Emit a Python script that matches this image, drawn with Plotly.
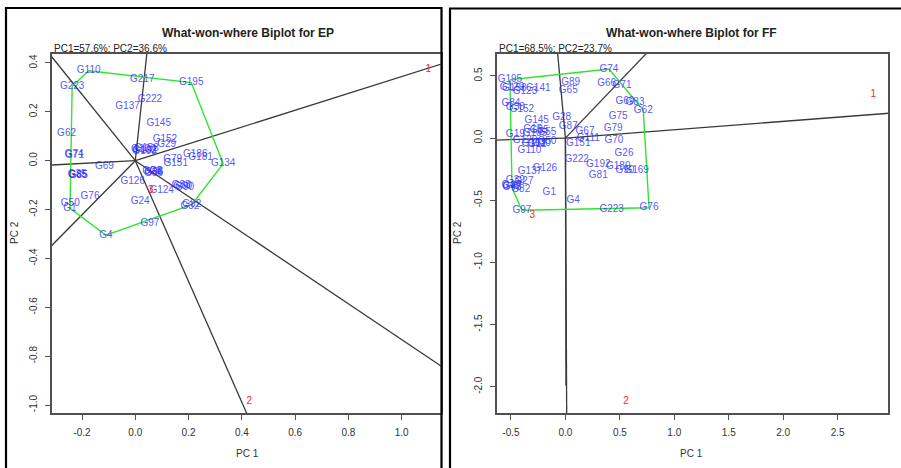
import math
import plotly.graph_objects as go

W, H = 901, 468
FONT = "Liberation Sans, Arial, Helvetica, sans-serif"

# ---------------- EP panel data ----------------
ep_gen = ["G110", "G223", "G217", "G195", "G222", "G137", "G145", "G62", "G152", "G29",
          "G100", "G192", "G158", "G163", "G74", "G71", "G186", "G181", "G79", "G151",
          "G134", "G69", "G35", "G85", "G65", "G26", "G36", "G8", "G56", "G126",
          "G124", "G88", "G90", "G60", "G76", "G24", "G50", "G1", "G32", "G92",
          "G97", "G4"]
ep_pc1 = [-0.175, -0.237, 0.026, 0.210, 0.055, -0.029, 0.088, -0.258, 0.111, 0.118,
          0.030, 0.036, 0.042, 0.034, -0.230, -0.228, 0.225, 0.245, 0.140, 0.152,
          0.330, -0.116, -0.218, -0.214, -0.216, 0.062, 0.070, 0.078, 0.068, -0.010,
          0.099, 0.172, 0.185, 0.178, -0.170, 0.018, -0.244, -0.245, 0.205, 0.212,
          0.055, -0.110]
ep_pc2 = [0.368, 0.305, 0.334, 0.320, 0.250, 0.221, 0.154, 0.111, 0.088, 0.068,
          0.047, 0.042, 0.048, 0.039, 0.026, 0.023, 0.025, 0.015, 0.004, -0.010,
          -0.012, -0.025, -0.057, -0.060, -0.062, -0.044, -0.050, -0.046, -0.054, -0.086,
          -0.123, -0.103, -0.108, -0.106, -0.147, -0.168, -0.175, -0.195, -0.186, -0.180,
          -0.256, -0.305]
ep_env = ["1", "2", "3"]
ep_env_pc1 = [1.100, 0.428, 0.058]
ep_env_pc2 = [0.374, -0.985, -0.120]
ep_hull = ["G223", "G110", "G195", "G134", "G92", "G4", "G1"]
ep_ray_angle = [84.35, 126.4, 183.2, 227.9, -67.97, -36.2, 19.0]
ep_ray_len = [5, 5, 5, 5, 5, 5, 5]
ep_xticks = [-0.2, 0.0, 0.2, 0.4, 0.6, 0.8, 1.0]
ep_xticklabels = ["-0.2", "0.0", "0.2", "0.4", "0.6", "0.8", "1.0"]
ep_yticks = [-1.0, -0.8, -0.6, -0.4, -0.2, 0.0, 0.2, 0.4]
ep_yticklabels = ["-1.0", "-0.8", "-0.6", "-0.4", "-0.2", "0.0", "0.2", "0.4"]

# ---------------- FF panel data ----------------
ff_gen = ["G195", "G129", "G158", "G123", "G141", "G89", "G65", "G74", "G66", "G71",
          "G69", "G83", "G62", "G84", "G38", "G152", "G75", "G145", "G28", "G79",
          "G87", "G67", "G111", "G151", "G70", "G19", "G15", "G35", "G55", "G105",
          "G120", "G102", "G12", "G50", "G30", "G110", "G26", "G222", "G192", "G180",
          "G90", "G169", "G81", "G126", "G137", "G39", "G27", "G82", "G46", "G47",
          "G48", "G1", "G4", "G97", "G223", "G76"]
ff_pc1 = [-0.510, -0.490, -0.470, -0.371, -0.249, 0.048, 0.026, 0.400, 0.379, 0.520,
          0.547, 0.639, 0.715, -0.500, -0.460, -0.400, 0.485, -0.264, -0.034, 0.439,
          0.026, 0.180, 0.210, 0.118, 0.446, -0.460, -0.300, -0.240, -0.170, -0.280,
          -0.370, -0.290, -0.260, -0.170, -0.220, -0.330, 0.538, 0.103, 0.302, 0.485,
          0.547, 0.654, 0.302, -0.188, -0.326, -0.460, -0.380, -0.410, -0.500, -0.490,
          -0.490, -0.148, 0.072, -0.400, 0.425, 0.768]
ff_pc2 = [0.470, 0.410, 0.400, 0.373, 0.401, 0.446, 0.379, 0.555, 0.441, 0.427,
          0.293, 0.285, 0.225, 0.275, 0.245, 0.234, 0.172, 0.140, 0.167, 0.079,
          0.092, 0.051, -0.002, -0.047, -0.023, 0.025, 0.068, 0.060, 0.045, 0.035,
          -0.020, -0.045, -0.050, -0.030, -0.045, -0.100, -0.122, -0.171, -0.216, -0.230,
          -0.257, -0.262, -0.297, -0.243, -0.270, -0.340, -0.350, -0.410, -0.380, -0.390,
          -0.400, -0.439, -0.498, -0.580, -0.578, -0.560]
ff_env = ["1", "2", "3"]
ff_env_pc1 = [2.827, 0.556, -0.304]
ff_env_pc2 = [0.347, -2.117, -0.619]
ff_hull = ["G195", "G74", "G62", "G76", "G97", "G48"]
ff_ray_angle = [96.0, 42.5, 3.85, 181.4, -89.7, -89.85]
ff_ray_len = [5, 5, 5, 5, 5, 1.99]
ff_xticks = [-0.5, 0.0, 0.5, 1.0, 1.5, 2.0, 2.5]
ff_xticklabels = ["-0.5", "0.0", "0.5", "1.0", "1.5", "2.0", "2.5"]
ff_yticks = [-2.0, -1.5, -1.0, -0.5, 0.0, 0.5]
ff_yticklabels = ["-2.0", "-1.5", "-1.0", "-0.5", "0.0", "0.5"]

titles = ["What-won-where Biplot for EP", "What-won-where Biplot for FF"]
subtitles = ["PC1=57.6%; PC2=36.6%", "PC1=68.5%; PC2=23.7%"]

BLUE = "rgba(40,40,255,0.8)"
RED = "#ff2020"
GREEN = "#2fe62f"
RAY = "#3a3a3a"
AX = "#505050"


def px(x):
    return x / W


def py(y):
    return 1 - y / H


fig = go.Figure()


def add_panel(gen, g1, g2, env, e1, e2, hull, angles, lens, xa, ya):
    # rays from origin (sector boundaries)
    for a, L in zip(angles, lens):
        r = math.radians(a)
        fig.add_trace(go.Scatter(x=[0, L * math.cos(r)], y=[0, L * math.sin(r)], mode="lines",
                                 line=dict(color=RAY, width=1.3), xaxis=xa, yaxis=ya,
                                 hoverinfo="skip"))
    # polygon through hull genotypes
    idx = [gen.index(h) for h in hull] + [gen.index(hull[0])]
    fig.add_trace(go.Scatter(x=[g1[i] for i in idx], y=[g2[i] for i in idx], mode="lines",
                             line=dict(color=GREEN, width=1.4), xaxis=xa, yaxis=ya,
                             hoverinfo="skip"))
    # genotype labels
    fig.add_trace(go.Scatter(x=g1, y=g2, text=gen, mode="text", textposition="middle center",
                             textfont=dict(family=FONT, size=10, color=BLUE),
                             xaxis=xa, yaxis=ya, cliponaxis=False))
    # environment labels
    fig.add_trace(go.Scatter(x=e1, y=e2, text=env, mode="text", textposition="middle center",
                             textfont=dict(family=FONT, size=10, color=RED),
                             xaxis=xa, yaxis=ya, cliponaxis=False))


add_panel(ep_gen, ep_pc1, ep_pc2, ep_env, ep_env_pc1, ep_env_pc2, ep_hull,
          ep_ray_angle, ep_ray_len, "x", "y")
add_panel(ff_gen, ff_pc1, ff_pc2, ff_env, ff_env_pc1, ff_env_pc2, ff_hull,
          ff_ray_angle, ff_ray_len, "x2", "y2")


def axis(domain, rng, tv, tt, anchor, is_y):
    d = dict(domain=domain, range=rng, tickvals=tv, ticktext=tt, anchor=anchor,
             showline=True, mirror=True, linecolor=AX, linewidth=1.6,
             ticks="outside", ticklen=5, tickwidth=1.2, tickcolor=AX,
             showgrid=False, zeroline=False, fixedrange=True,
             tickfont=dict(family=FONT, size=10, color="#333333"),
             ticklabelstandoff=4)
    if is_y:
        d["tickangle"] = -90
    return d


ydom = [py(413), py(54)]
fig.update_layout(
    width=W, height=H, margin=dict(l=0, r=0, t=0, b=0), autosize=False,
    paper_bgcolor="white", plot_bgcolor="white", showlegend=False,
    xaxis=axis([px(52), px(440.7)], [-0.3127, 1.1466], ep_xticks, ep_xticklabels, "y", False),
    yaxis=axis(ydom, [-1.0327, 0.4368], ep_yticks, ep_yticklabels, "x", True),
    xaxis2=axis([px(496.7), px(888.3)], [-0.631, 2.965], ff_xticks, ff_xticklabels, "y2", False),
    yaxis2=axis(ydom, [-2.2116, 0.6766], ff_yticks, ff_yticklabels, "x2", True),
)

ann = []
for cx, lx, t, s in [(247.5, 52, titles[0], subtitles[0]), (691.5, 496.7, titles[1], subtitles[1])]:
    ann.append(dict(x=px(cx), y=py(33), xref="paper", yref="paper", text="<b>" + t + "</b>",
                    showarrow=False, xanchor="center", yanchor="middle",
                    font=dict(family=FONT, size=12, color="#222222")))
    ann.append(dict(x=px(lx), y=py(48.5), xref="paper", yref="paper", text=s,
                    showarrow=False, xanchor="left", yanchor="middle",
                    font=dict(family=FONT, size=10, color="#222222")))
    ann.append(dict(x=px(cx), y=py(453), xref="paper", yref="paper", text="PC 1",
                    showarrow=False, xanchor="center", yanchor="middle",
                    font=dict(family=FONT, size=10, color="#333333")))
for x in [14, 457]:
    ann.append(dict(x=px(x), y=py(233), xref="paper", yref="paper", text="PC 2",
                    showarrow=False, textangle=-90, xanchor="center", yanchor="middle",
                    font=dict(family=FONT, size=10, color="#333333")))
fig.update_layout(annotations=ann)

fig.update_layout(shapes=[
    dict(type="rect", xref="paper", yref="paper", x0=px(6), x1=px(441.5), y0=-0.05, y1=py(8),
         line=dict(color="black", width=2.2), layer="above"),
    dict(type="rect", xref="paper", yref="paper", x0=px(450), x1=1.05, y0=-0.05, y1=py(8.5),
         line=dict(color="black", width=2.2), layer="above"),
])

fig.write_html("out.html")
